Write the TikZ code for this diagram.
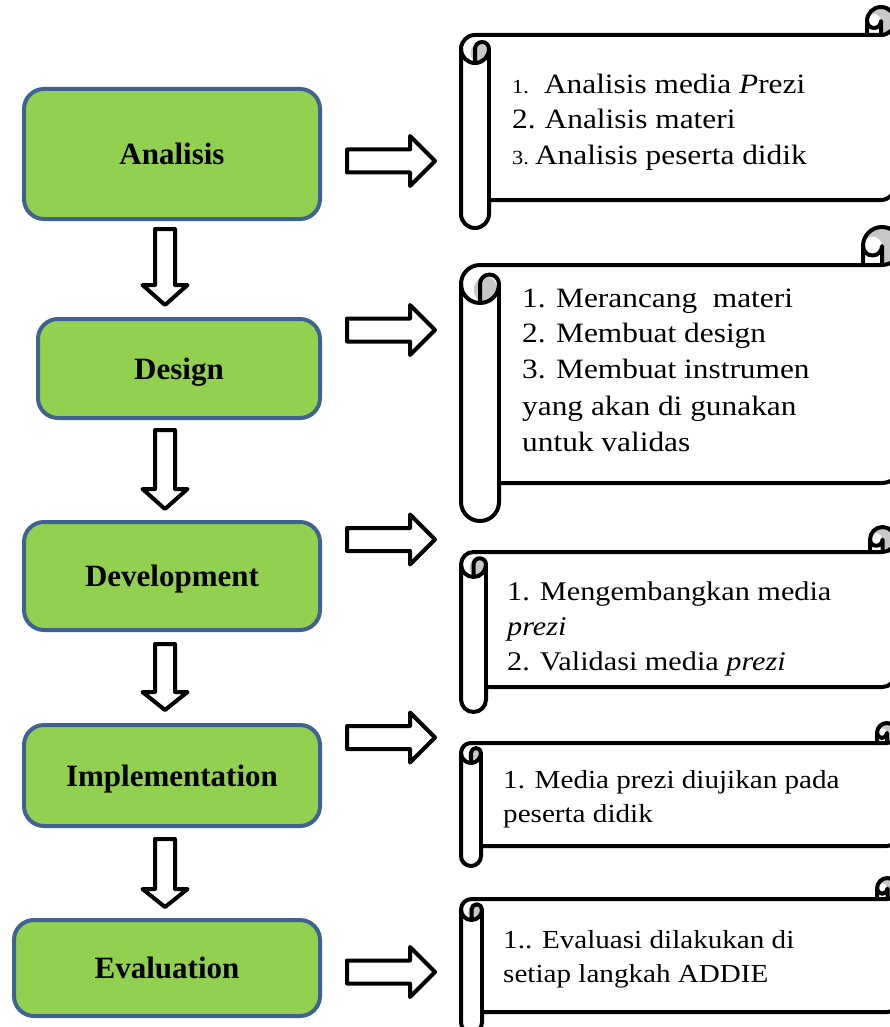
\documentclass[tikz,border=0pt]{standalone}
\usepackage{fontspec}
\setmainfont{Liberation Serif}
\newfontfamily\listfont{Liberation Serif}[FakeStretch=1.12]
\definecolor{phasegreen}{HTML}{92D050}
\definecolor{phaseblue}{HTML}{3F6290}
\definecolor{curlgray}{HTML}{C8C8C8}
\tikzset{
  phase/.style={draw=phaseblue, fill=phasegreen, line width=4pt, rounded corners=20pt,
    inner sep=0pt, text height=21pt, text depth=0pt,
    font=\fontsize{31}{36}\selectfont\bfseries},
  blockarrow/.style={draw=black, fill=white, line width=4pt, line join=round},
  scrollline/.style={draw=black, line width=4pt, line join=round},
  lt/.style={anchor=base west, inner sep=0pt, font={\listfont\fontsize{28}{34}\selectfont}},
  ltm/.style={anchor=base west, inner sep=0pt, font={\listfont\fontsize{27}{34}\selectfont}},
  lts/.style={anchor=base west, inner sep=0pt, font={\listfont\fontsize{26}{34}\selectfont}}
}
\newcommand{\scrollshape}[5]{%
 \pgfmathsetmacro\scL{#1}%
 \pgfmathsetmacro\scTop{#2}%
 \pgfmathsetmacro\scYc{#3}%
 \pgfmathsetmacro\scC{#4}%
 \pgfmathsetmacro\scR{#5}%
 \pgfmathsetmacro\scCh{\scC/2}%
 \pgfmathsetmacro\scCq{\scC/4}%
 \pgfmathsetmacro\scTT{\scTop-\scCh}%
 \pgfmathsetmacro\scYa{\scTop+\scCh}%
 \pgfmathsetmacro\scYb{\scTop+\scC}%
 \pgfmathsetmacro\scYd{\scYc+\scCh}%
 \pgfmathsetmacro\scYe{\scYc-\scCh}%
 \pgfmathsetmacro\scXa{\scR-\scC}%
 \pgfmathsetmacro\scXb{\scR-\scCh}%
 \pgfmathsetmacro\scXc{\scL+\scC}%
 \pgfmathsetmacro\scXh{\scL+\scCh}%
 \pgfmathsetmacro\scGx{\scXh+0.3*\scCh}%
 \pgfmathsetmacro\scGy{\scYa+0.3*\scCh}%
 \pgfmathsetmacro\scGrx{0.62*\scCh}%
 \pgfmathsetmacro\scGry{0.7*\scCh}%
 \fill[white] (\scL,\scYa) arc[start angle=180,delta angle=90,radius=\scCh] -- (\scXa,\scTop) -- (\scXa,\scTT) arc[start angle=180,delta angle=180,radius=\scCh] -- (\scR,\scYe) arc[start angle=0,delta angle=90,radius=\scCh] -- (\scXc,\scYc) -- (\scXc,\scYd) arc[start angle=0,delta angle=180,radius=\scCh] -- cycle;
 \fill[curlgray] (\scGx,\scGy) ellipse[x radius=\scGrx, y radius=\scGry];
 \fill[curlgray] (\scXb,\scTop) arc[start angle=90,delta angle=-270,radius=\scCh] arc[start angle=180,delta angle=180,radius=\scCq] -- cycle;
 \draw[scrollline] (\scL,\scYa) arc[start angle=180,delta angle=90,radius=\scCh] -- (\scXa,\scTop) -- (\scXa,\scTT) arc[start angle=180,delta angle=180,radius=\scCh] -- (\scR,\scYe) arc[start angle=0,delta angle=90,radius=\scCh] -- (\scXc,\scYc) -- (\scXc,\scYd) arc[start angle=0,delta angle=180,radius=\scCh] -- cycle;
 \draw[scrollline] (\scXa,\scTop) -- (\scXb,\scTop) arc[start angle=90,delta angle=-90,radius=\scCh];
 \draw[scrollline] (\scXb,\scTop) -- (\scXb,\scTT) arc[start angle=0,delta angle=180,radius=\scCq];
 \draw[scrollline] (\scXh,\scYb) -- (\scXh,\scYa) arc[start angle=180,delta angle=180,radius=\scCq] arc[start angle=0,delta angle=180,radius=\scCh];
 \draw[scrollline] (\scXc,\scYa) -- (\scXc,\scYc);
}
\newcommand{\downarr}[4]{%
 \draw[blockarrow] (#1-10,#2) -- (#1+10,#2) -- (#1+10,#3) -- (#1+22.5,#3) -- (#1,#4) -- (#1-22.5,#3) -- (#1-10,#3) -- cycle;}
\newcommand{\rightarr}[1]{%
 \draw[blockarrow] (347,#1-11.5) -- (410,#1-11.5) -- (410,#1-25) -- (435,#1) -- (410,#1+25) -- (410,#1+11.5) -- (347,#1+11.5) -- cycle;}
\begin{document}
\begin{tikzpicture}[x=1pt,y=-1pt]
\fill[white] (0,0) rectangle (890,1027);
\useasboundingbox (0,0) rectangle (890,1027);
\clip (0,0) rectangle (890,1027);

% phase boxes
\node[phase, minimum width=296pt, minimum height=130pt] (an) at (172,154) {Analisis};
\node[phase, minimum width=282pt, minimum height=99pt] (de) at (179,368.5) {Design};
\node[phase, minimum width=296pt, minimum height=108pt] (dv) at (172,576) {Development};
\node[phase, minimum width=296pt, minimum height=101pt] (im) at (172,775.5) {Implementation};
\node[phase, minimum width=306pt, minimum height=96pt] (ev) at (167,968) {Evaluation};

% down arrows
\downarr{165}{229}{285}{305}
\downarr{165}{430}{489}{509}
\downarr{165}{644}{692}{710}
\downarr{165}{839}{889}{907}

% right arrows
\rightarr{161}
\rightarr{330}
\rightarr{539.5}
\rightarr{737.5}
\rightarr{972}

% scrolls
\scrollshape{461}{35}{200}{28}{895}
\scrollshape{461}{265}{483}{38}{901}
\scrollshape{461}{552}{687}{25}{895}
\scrollshape{461}{743}{846}{20}{897}
\scrollshape{461}{899}{1012}{21}{898}

% scroll texts
\node[lt] (s1a) at (512,94) {{\fontsize{20}{20}\selectfont 1.}\hspace{15pt}Analisis media \textit{P}rezi};
\node[lt] (s1b) at (512,129) {2.\hspace{9pt}Analisis materi};
\node[lt] (s1c) at (512,165) {{\fontsize{20}{20}\selectfont 3.}\hspace{6pt}Analisis peserta didik};

\node[lt] (s2a) at (522,307) {1. Merancang\ \ materi};
\node[lt] (s2b) at (522,342) {2. Membuat design};
\node[lt] (s2c) at (522,378) {3. Membuat instrumen};
\node[lt] (s2d) at (522,415) {yang akan di gunakan};
\node[lt] (s2e) at (522,451) {untuk validas};

\node[ltm] (s3a) at (507,600) {1. Mengembangkan media};
\node[ltm] (s3b) at (507,635) {\textit{prezi}};
\node[ltm] (s3c) at (507,670) {2. Validasi media \textit{prezi}};

\node[lts] (s4a) at (503,788) {1. Media prezi diujikan pada};
\node[lts] (s4b) at (503,822) {peserta didik};

\node[lts] (s5a) at (503,948) {1.. Evaluasi dilakukan di};
\node[lts] (s5b) at (503,982) {setiap langkah ADDIE};
\end{tikzpicture}
\end{document}
